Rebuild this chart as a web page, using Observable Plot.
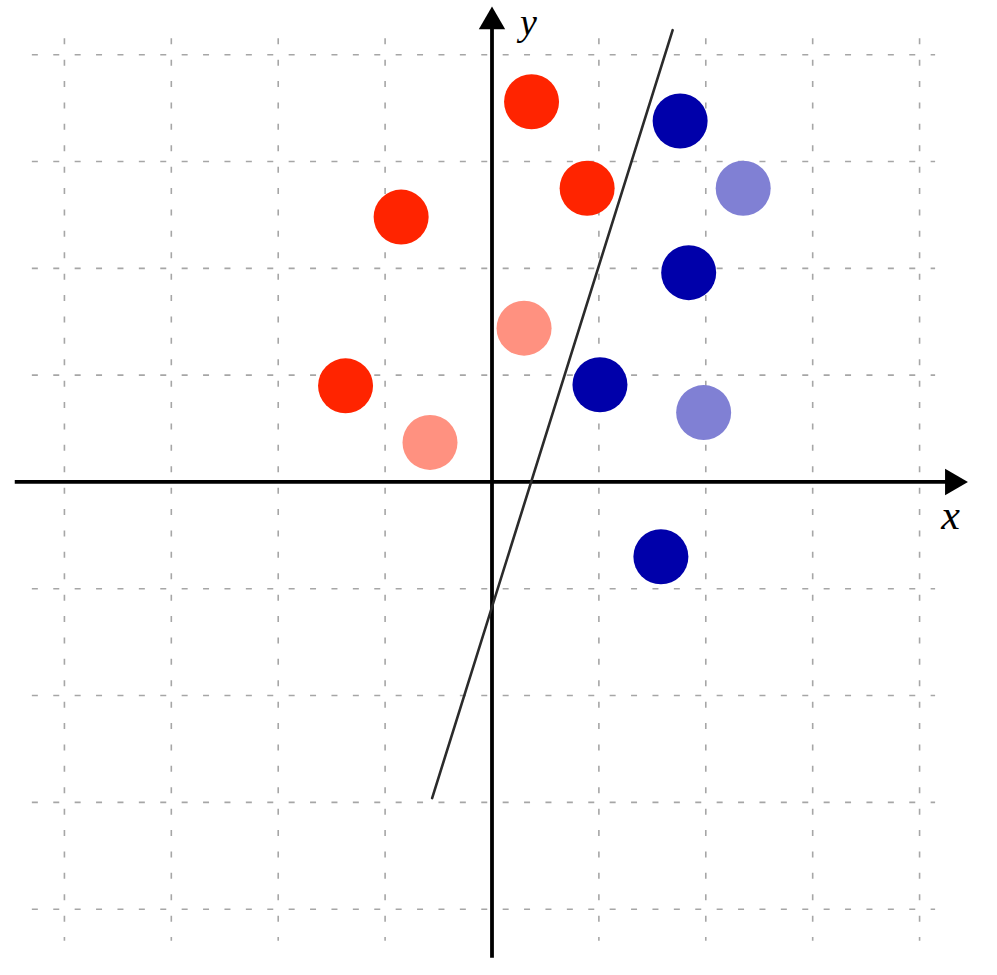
<!DOCTYPE html>
<html>
<head>
<meta charset="utf-8">
<script src="https://cdn.jsdelivr.net/npm/d3@7"></script>
<script src="https://cdn.jsdelivr.net/npm/@observablehq/plot@0.6"></script>
<style>
  html, body { margin: 0; padding: 0; background: #fff; overflow: hidden; }
  #chart { width: 997px; height: 975px; }
</style>
</head>
<body>
<div id="chart"></div>
<script>
// Grid tick values
const gridTicks = [-4, -3, -2, -1, 0, 1, 2, 3, 4];

// Class A (red) points
const redX = [0.37, 0.89, -0.85, -1.37];
const redY = [3.56, 2.75, 2.48, 0.90];
// Class A light points
const lightRedX = [0.30, -0.58];
const lightRedY = [1.44, 0.37];
// Class B (blue) points
const blueX = [1.76, 1.84, 1.01, 1.58];
const blueY = [3.38, 1.96, 0.91, -0.70];
// Class B light points
const lightBlueX = [2.35, 1.98];
const lightBlueY = [2.75, 0.65];

// Separating line endpoints
const lineX = [-0.56, 1.69];
const lineY = [-2.96, 4.23];

// Axis labels
const axisLabels = ["x", "y"];

const toPts = (xs, ys) => xs.map((x, i) => ({x, y: ys[i]}));
const red = toPts(redX, redY);
const lightRed = toPts(lightRedX, lightRedY);
const blue = toPts(blueX, blueY);
const lightBlue = toPts(lightBlueX, lightBlueY);
const sepLine = toPts(lineX, lineY);

const gMin = -4.3, gMax = 4.15;
const aMin = -4.46, aEnd = 4.31;
const R = 27.5;
const dash = "6,15.4";
const labelFont = "'Liberation Serif', 'DejaVu Serif', serif";

const chart = Plot.plot({
  width: 997,
  height: 975,
  margin: 0,
  x: {domain: [-4.598, 4.729], axis: null},
  y: {domain: [-4.621, 4.508], axis: null},
  style: {background: "#fff"},
  marks: [
    Plot.ruleY(gridTicks, {y: d => d, x1: gMin, x2: gMax, stroke: "#a6a6a6", strokeWidth: 1.6, strokeDasharray: dash}),
    Plot.ruleX(gridTicks, {x: d => d, y1: gMax, y2: gMin, stroke: "#a6a6a6", strokeWidth: 1.6, strokeDasharray: dash}),
    Plot.ruleY([0], {x1: aMin, x2: aEnd, stroke: "#000", strokeWidth: 3.8}),
    Plot.ruleX([0], {y1: aMin, y2: aEnd, stroke: "#000", strokeWidth: 3.8}),
    Plot.dot([{x: aEnd, y: 0}], {x: "x", y: "y", symbol: "triangle", r: 9.8, fill: "#000", rotate: 90}),
    Plot.dot([{x: 0, y: aEnd}], {x: "x", y: "y", symbol: "triangle", r: 9.8, fill: "#000"}),
    Plot.line(sepLine, {x: "x", y: "y", stroke: "#2b2b2b", strokeWidth: 2.6}),
    Plot.dot(red, {x: "x", y: "y", r: R, fill: "#ff2400"}),
    Plot.dot(lightRed, {x: "x", y: "y", r: R, fill: "#ff9180"}),
    Plot.dot(blue, {x: "x", y: "y", r: R, fill: "#0000aa"}),
    Plot.dot(lightBlue, {x: "x", y: "y", r: R, fill: "#8080d4"}),
    Plot.text([axisLabels[0]], {x: 4.29, y: -0.31, text: d => d, fontSize: 42, fontStyle: "italic", fontFamily: labelFont, fill: "#000"}),
    Plot.text([axisLabels[1]], {x: 0.34, y: 4.30, text: d => d, fontSize: 38, fontStyle: "italic", fontFamily: labelFont, fill: "#000"})
  ]
});
document.getElementById("chart").appendChild(chart);
</script>
</body>
</html>
